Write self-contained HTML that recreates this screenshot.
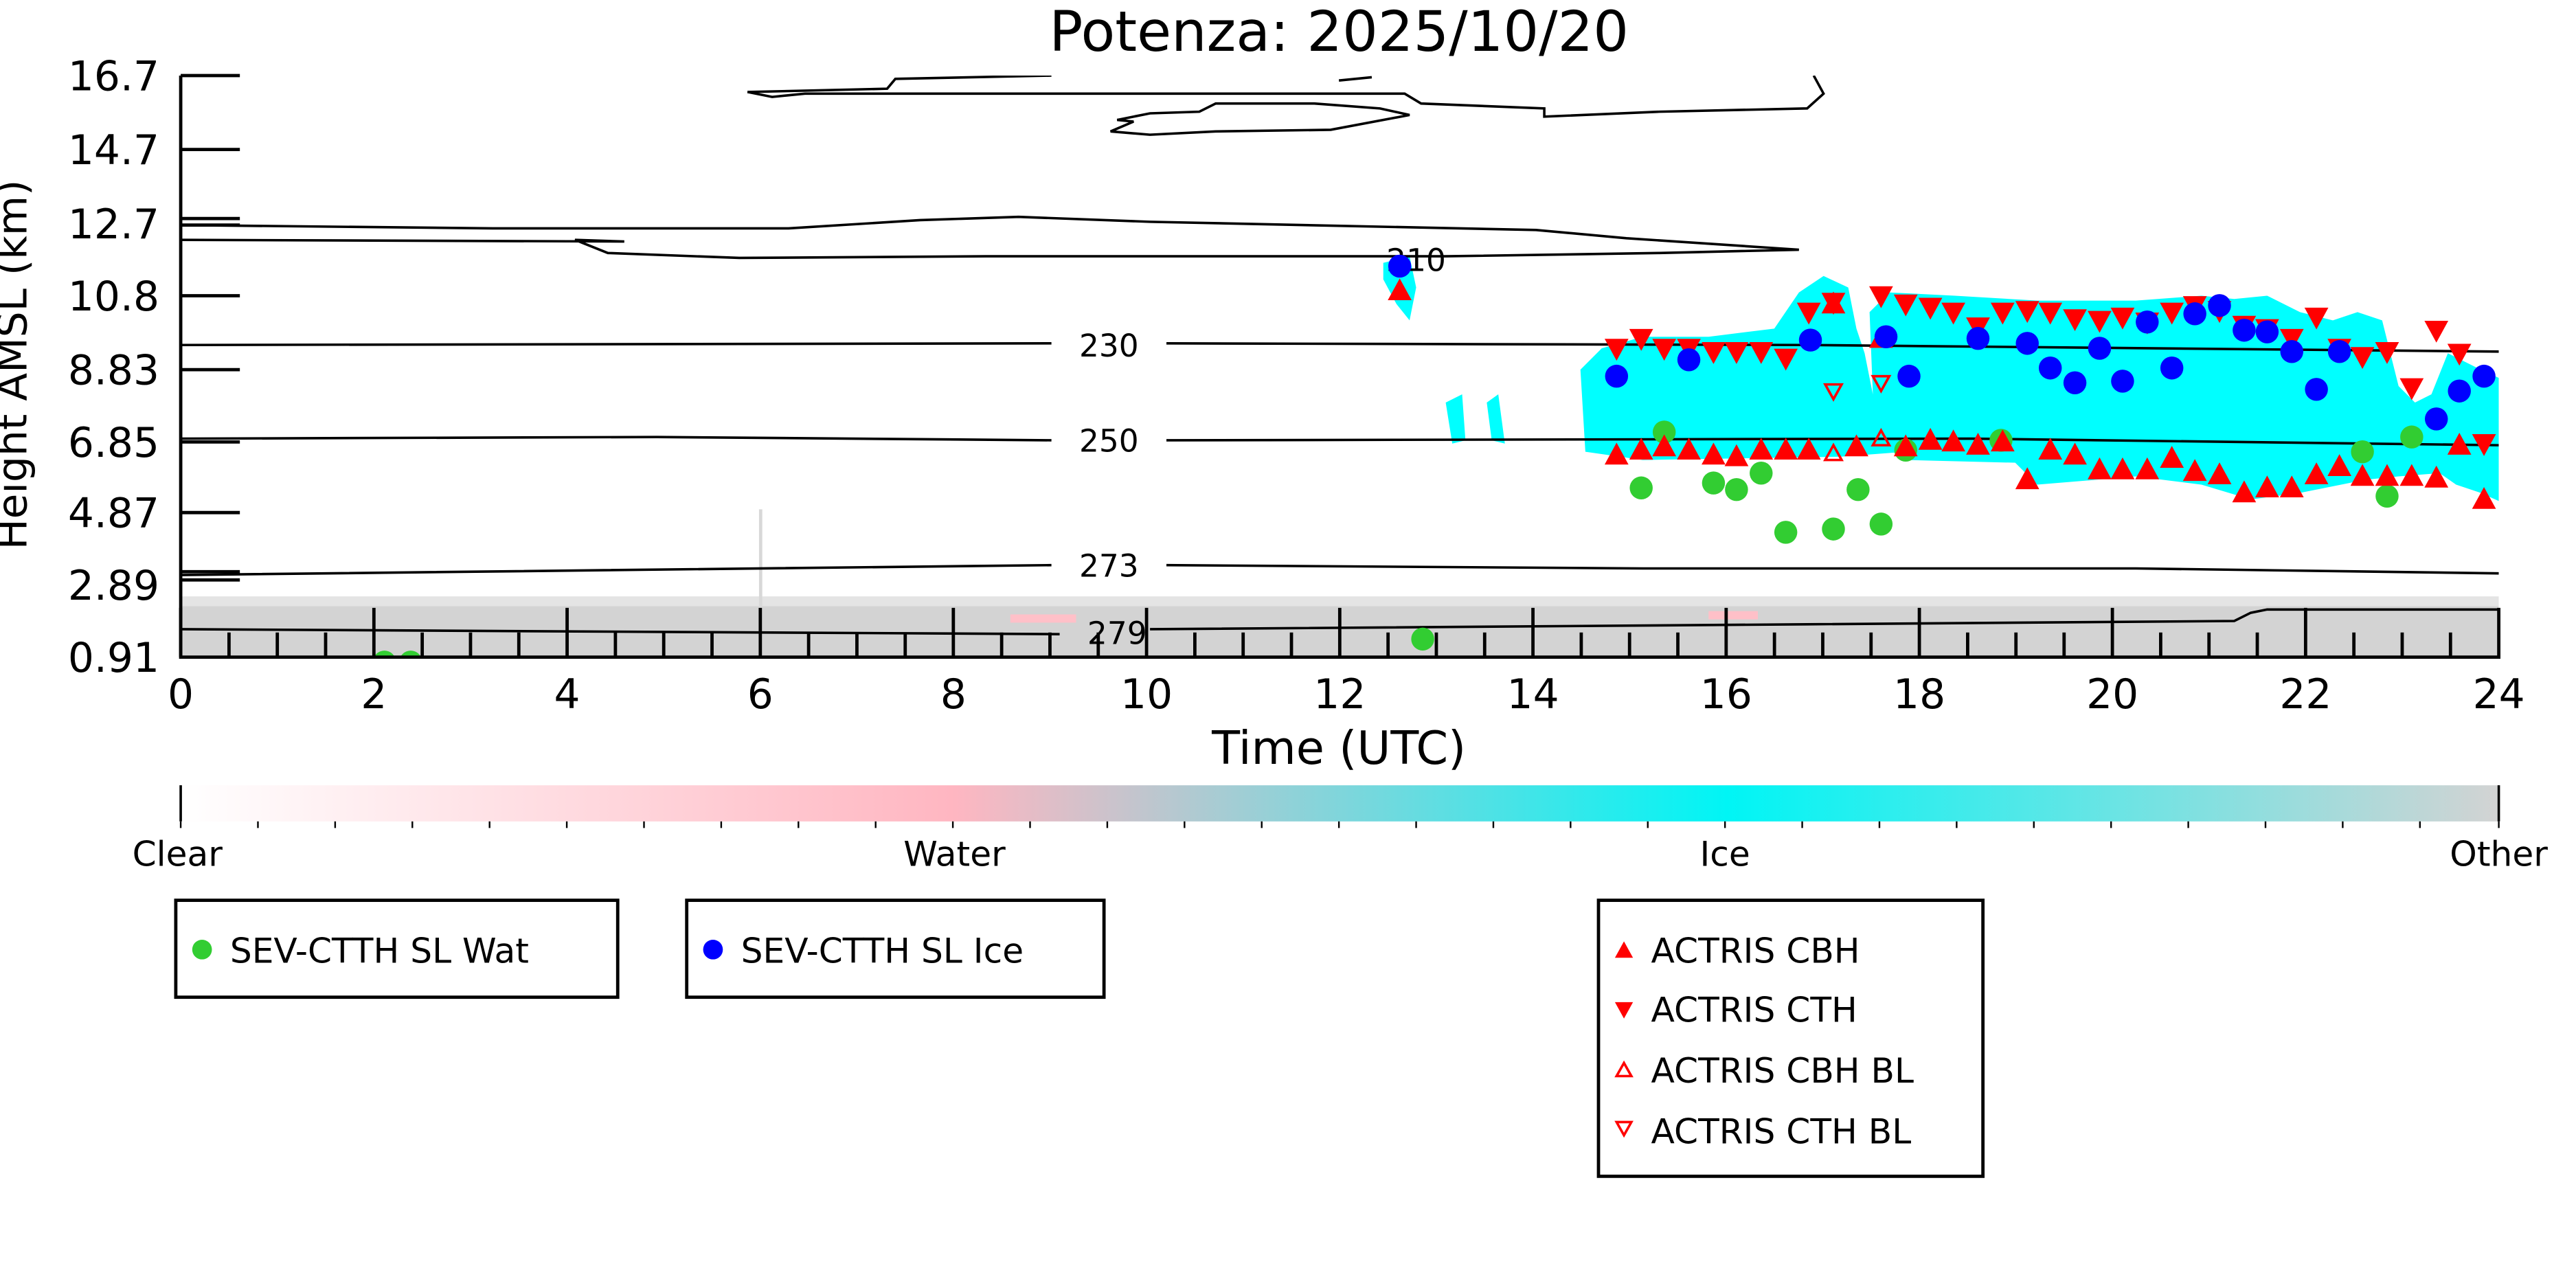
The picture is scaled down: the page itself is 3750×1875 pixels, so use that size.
<!DOCTYPE html>
<html><head><meta charset="utf-8"><style>html,body{margin:0;padding:0;background:#fff}svg{display:block}text{font-family:"DejaVu Sans","Liberation Sans",sans-serif}</style></head>
<body>
<svg width="3750" height="1875" viewBox="0 0 1568 784" xmlns="http://www.w3.org/2000/svg">
<defs>
<linearGradient id="cb" x1="0" x2="1" y1="0" y2="0">
<stop offset="0" stop-color="#ffffff"/><stop offset="0.333" stop-color="#ffb6c1"/><stop offset="0.667" stop-color="#00f5f5"/><stop offset="1" stop-color="#d3d3d3"/>
</linearGradient>
<clipPath id="ax"><rect x="110" y="46" width="1411" height="354"/></clipPath>
</defs>
<text x="815" y="31" font-size="34" text-anchor="middle">Potenza: 2025/10/20</text>
<g clip-path="url(#ax)">
<rect x="110" y="363" width="1411" height="8" fill="#e4e4e4"/>
<rect x="110" y="369" width="1411" height="31" fill="#d3d3d3"/>
<rect x="615" y="374" width="40" height="5" fill="#ffc0c8"/>
<rect x="1040" y="372" width="30" height="5" fill="#ffc0c8"/>
<rect x="462" y="310" width="2" height="60" fill="#d8d8d8"/>
<path d="M962,225 L975,212 L1000,205 L1040,205 L1080,200 L1095,178 L1110,168 L1125,175 L1130,200 L1135,215 L1140,240 L1138,190 L1150,178 L1190,180 L1240,183 L1300,183 L1340,180 L1360,182 L1380,180 L1400,190 L1420,195 L1435,190 L1450,195 L1455,215 L1460,235 L1470,245 L1480,240 L1490,215 L1510,225 L1521,230 L1521,305 L1510,300 L1495,295 L1485,288 L1460,290 L1440,292 L1400,300 L1370,304 L1340,295 L1300,290 L1240,295 L1225,280 L1200,272 L1160,275 L1120,278 L1000,280 L965,275 Z" fill="#00ffff"/>
<path d="M842,160 L858,156 L862,175 L858,195 L850,185 L842,170 Z" fill="#00ffff"/>
<path d="M880,245 L890,240 L892,268 L884,270 Z M905,245 L912,240 L916,270 L908,268 Z M1160,268 L1240,268 L1240,282 L1160,280 Z" fill="#00ffff"/>
<g fill="none" stroke="#000" stroke-width="1.5">
<path d="M110,210 L640,209 M710,209 L1100,210 L1521,214"/>
<path d="M110,267 L400,266 L640,268 M710,268 L1200,267 L1521,271"/>
<path d="M110,350 L640,344 M710,344 L1000,346 L1300,346 L1521,349"/>
<path d="M110,383 L645,386 M700,383 L1100,380 L1360,378 L1370,373 L1380,371 L1521,371"/>
<path d="M110,137 L300,139 L480,139 L560,134 L620,132 L700,135 L935,140 L990,145 L1095,152 L1010,154 L880,156 L600,156 L450,157 L370,154 L350,146 L380,147 L110,146"/>
<path d="M455,56 L470,59 L490,57 L600,57 L855,57 L865,63 L940,66 L940,71 L1010,68 L1100,66 L1110,57 L1104,46"/>
<path d="M455,56 L540,54 L545,48 L640,46 M815,49 L835,47"/>
<path d="M680,73 L700,69 L730,68 L740,63 L800,63 L840,66 L858,70 L810,79 L740,80 L700,82 L676,80 L690,74 Z"/>
</g>
<g font-size="19" text-anchor="middle" fill="#000">
<text x="862" y="165">210</text><text x="675" y="217">230</text><text x="675" y="275">250</text><text x="675" y="351">273</text><text x="680" y="392">279</text>
</g>
<g fill="#32cd32">
<circle cx="234" cy="403" r="7"/><circle cx="250" cy="403" r="7"/><circle cx="866" cy="389" r="7"/><circle cx="999" cy="297" r="7"/><circle cx="1013" cy="263" r="7"/><circle cx="1043" cy="294" r="7"/><circle cx="1057" cy="298" r="7"/><circle cx="1072" cy="288" r="7"/><circle cx="1087" cy="324" r="7"/><circle cx="1116" cy="322" r="7"/><circle cx="1131" cy="298" r="7"/><circle cx="1145" cy="319" r="7"/><circle cx="1160" cy="274" r="7"/><circle cx="1218" cy="268" r="7"/><circle cx="1438" cy="275" r="7"/><circle cx="1453" cy="302" r="7"/><circle cx="1468" cy="266" r="7"/>
</g>
<g fill="#ff0000" stroke="#ff0000" stroke-width="1.5" stroke-linejoin="miter">
<path d="M978,207h12l-6,11z M993,201h12l-6,11z M1007,207h12l-6,11z M1022,207h12l-6,11z M1037,209h12l-6,11z M1051,209h12l-6,11z M1066,209h12l-6,11z M1081,213h12l-6,11z M1095,185h12l-6,11z M1110,179h12l-6,11z M1139,175h12l-6,11z M1154,180h12l-6,11z M1169,182h12l-6,11z M1183,185h12l-6,11z M1198,194h12l-6,11z M1213,185h12l-6,11z M1228,184h12l-6,11z M1242,185h12l-6,11z M1257,189h12l-6,11z M1272,190h12l-6,11z M1286,188h12l-6,11z M1301,191h12l-6,11z M1316,185h12l-6,11z M1330,181h12l-6,11z M1345,184h12l-6,11z M1360,193h12l-6,11z M1374,195h12l-6,11z M1389,201h12l-6,11z M1404,188h12l-6,11z M1418,207h12l-6,11z M1432,212h12l-6,11z M1447,209h12l-6,11z M1462,231h12l-6,11z M1477,196h12l-6,11z M1491,210h12l-6,11z M1506,265h12l-6,11z"/>
<path d="M846,182h12l-6,-11z M978,282h12l-6,-11z M993,279h12l-6,-11z M1007,277h12l-6,-11z M1022,279h12l-6,-11z M1037,282h12l-6,-11z M1051,283h12l-6,-11z M1066,279h12l-6,-11z M1081,279h12l-6,-11z M1095,279h12l-6,-11z M1110,190h12l-6,-11z M1124,277h12l-6,-11z M1139,211h12l-6,-11z M1154,277h12l-6,-11z M1169,273h12l-6,-11z M1183,274h12l-6,-11z M1198,276h12l-6,-11z M1213,274h12l-6,-11z M1228,297h12l-6,-11z M1242,279h12l-6,-11z M1257,282h12l-6,-11z M1272,291h12l-6,-11z M1286,291h12l-6,-11z M1301,291h12l-6,-11z M1316,284h12l-6,-11z M1330,292h12l-6,-11z M1345,294h12l-6,-11z M1360,305h12l-6,-11z M1374,302h12l-6,-11z M1389,302h12l-6,-11z M1404,294h12l-6,-11z M1418,289h12l-6,-11z M1432,295h12l-6,-11z M1447,295h12l-6,-11z M1462,295h12l-6,-11z M1477,296h12l-6,-11z M1491,276h12l-6,-11z M1506,309h12l-6,-11z"/>
</g>
<g fill="none" stroke="#ff0000" stroke-width="1.5">
<path d="M1111,234h10l-5,9z M1140,229h10l-5,9z M1111,280h10l-5,-9z M1140,271h10l-5,-9z"/>
</g>
<g fill="#0000ff">
<circle cx="852" cy="162" r="7"/><circle cx="984" cy="229" r="7"/><circle cx="1028" cy="219" r="7"/><circle cx="1102" cy="207" r="7"/><circle cx="1148" cy="205" r="7"/><circle cx="1162" cy="229" r="7"/><circle cx="1204" cy="206" r="7"/><circle cx="1234" cy="209" r="7"/><circle cx="1248" cy="224" r="7"/><circle cx="1263" cy="233" r="7"/><circle cx="1278" cy="212" r="7"/><circle cx="1292" cy="232" r="7"/><circle cx="1307" cy="196" r="7"/><circle cx="1322" cy="224" r="7"/><circle cx="1336" cy="191" r="7"/><circle cx="1351" cy="186" r="7"/><circle cx="1366" cy="201" r="7"/><circle cx="1380" cy="202" r="7"/><circle cx="1395" cy="214" r="7"/><circle cx="1410" cy="237" r="7"/><circle cx="1424" cy="214" r="7"/><circle cx="1483" cy="255" r="7"/><circle cx="1497" cy="238" r="7"/><circle cx="1512" cy="229" r="7"/>
</g>
</g>
<g stroke="#000" stroke-width="2" fill="none">
<path d="M110,46 L110,400 L1521,400 L1521,370"/>
<path d="M110,46h36 M110,91h36 M110,133h36 M110,137h36 M110,180h36 M110,225h36 M110,269h36 M110,312h36 M110,348h36 M110,353h36"/>
<path d="M110,400v-30 M227.6,400v-30 M345.2,400v-30 M462.8,400v-30 M580.3,400v-30 M697.9,400v-30 M815.5,400v-30 M933.1,400v-30 M1050.7,400v-30 M1168.3,400v-30 M1285.8,400v-30 M1403.4,400v-30 M139.4,400v-15 M168.8,400v-15 M198.2,400v-15 M257,400v-15 M286.4,400v-15 M315.8,400v-15 M374.6,400v-15 M404,400v-15 M433.4,400v-15 M492.2,400v-15 M521.6,400v-15 M551,400v-15 M609.7,400v-15 M639.1,400v-15 M668.5,400v-15 M727.3,400v-15 M756.7,400v-15 M786.1,400v-15 M844.9,400v-15 M874.3,400v-15 M903.7,400v-15 M962.5,400v-15 M991.9,400v-15 M1021.3,400v-15 M1080.1,400v-15 M1109.5,400v-15 M1138.9,400v-15 M1197.7,400v-15 M1227.1,400v-15 M1256.4,400v-15 M1315.2,400v-15 M1344.6,400v-15 M1374,400v-15 M1432.8,400v-15 M1462.2,400v-15 M1491.6,400v-15"/>
</g>
<g font-size="25" text-anchor="end">
<text x="97" y="55">16.7</text><text x="97" y="100">14.7</text><text x="97" y="145">12.7</text><text x="97" y="189">10.8</text><text x="97" y="234">8.83</text><text x="97" y="278">6.85</text><text x="97" y="321">4.87</text><text x="97" y="365">2.89</text><text x="97" y="409">0.91</text>
</g>
<g font-size="25" text-anchor="middle">
<text x="110" y="431">0</text><text x="227.6" y="431">2</text><text x="345.2" y="431">4</text><text x="462.8" y="431">6</text><text x="580.3" y="431">8</text><text x="697.9" y="431">10</text><text x="815.5" y="431">12</text><text x="933.1" y="431">14</text><text x="1050.7" y="431">16</text><text x="1168.3" y="431">18</text><text x="1285.8" y="431">20</text><text x="1403.4" y="431">22</text><text x="1521" y="431">24</text>
</g>
<text x="815" y="465" font-size="28" text-anchor="middle">Time (UTC)</text>
<text transform="translate(16,222) rotate(-90)" font-size="25" text-anchor="middle">Height AMSL (km)</text>
<rect x="110" y="478" width="1411" height="22" fill="url(#cb)"/>
<path d="M110,478v22 M1521,478v22" stroke="#000" stroke-width="1.5"/>
<g stroke="#000" stroke-width="1">
<path d="M110,500v4 M157,500v4 M204,500v4 M251,500v4 M298,500v4 M345,500v4 M392,500v4 M439,500v4 M486,500v4 M533,500v4 M580,500v4 M627,500v4 M674,500v4 M721,500v4 M768,500v4 M815,500v4 M862,500v4 M909,500v4 M956,500v4 M1003,500v4 M1050,500v4 M1097,500v4 M1144,500v4 M1191,500v4 M1238,500v4 M1285,500v4 M1332,500v4 M1379,500v4 M1426,500v4 M1473,500v4 M1521,500v4"/>
</g>
<g font-size="21" text-anchor="middle">
<text x="108" y="527">Clear</text><text x="581" y="527">Water</text><text x="1050" y="527">Ice</text><text x="1521" y="527">Other</text>
</g>
<g fill="none" stroke="#000" stroke-width="2">
<rect x="107" y="548" width="269" height="59"/><rect x="418" y="548" width="254" height="59"/><rect x="973" y="548" width="234" height="168"/>
</g>
<circle cx="123" cy="578" r="6" fill="#32cd32"/><circle cx="434" cy="578" r="6" fill="#0000ff"/>
<g font-size="21">
<text x="140" y="586">SEV-CTTH SL Wat</text><text x="451" y="586">SEV-CTTH SL Ice</text>
<text x="1005" y="586">ACTRIS CBH</text><text x="1005" y="622">ACTRIS CTH</text><text x="1005" y="659">ACTRIS CBH BL</text><text x="1005" y="696">ACTRIS CTH BL</text>
</g>
<path d="M983,583h11l-5.5,-10z M983,610h11l-5.5,10z" fill="#ff0000"/>
<path d="M984,655h9l-4.5,-8z M984,683h9l-4.5,8z" fill="none" stroke="#ff0000" stroke-width="1.5"/>
</svg>
</body></html>
